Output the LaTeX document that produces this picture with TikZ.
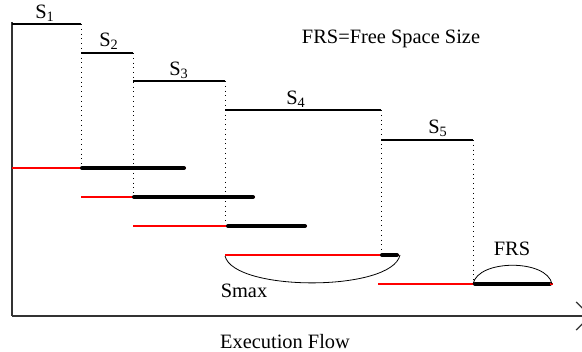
\documentclass[tikz,border=0pt]{standalone}
\usepackage{fontspec}
\setmainfont{Liberation Serif}
\usetikzlibrary{arrows.meta, positioning}
\definecolor{waitcolor}{RGB}{255, 0, 0}

\begin{document}
\begin{tikzpicture}[
    x=0.5pt, y=-0.5pt,
    stepline/.style={black, line width=0.6pt},
    guide/.style={black, dotted, line width=0.4pt},
    waitline/.style={waitcolor, line width=1pt},
    runline/.style={black, line width=2pt, line cap=round},
    label/.style={font=\fontsize{10.2}{12}\selectfont, inner sep=1pt},
    span/.style={black, line width=0.4pt},
    axis/.style={black!80, line width=0.6pt}
]
\useasboundingbox (0,0) rectangle (582,352);

% Axes
\coordinate (top) at (12,22);
\coordinate (origin) at (12,316);
\coordinate (tip) at (591,316);
\draw[axis] (top) -- (origin);
\draw[axis, -{Straight Barb[length=7pt, width=14pt]}] (origin) -- (tip);
\node[label] (flow) at (285,342) {Execution Flow};

% Sizes
\coordinate (s1a) at (12,24);  \coordinate (s1b) at (81,24);
\coordinate (s2a) at (81,53);  \coordinate (s2b) at (133,53);
\coordinate (s3a) at (133,81); \coordinate (s3b) at (225,81);
\coordinate (s4a) at (225,110); \coordinate (s4b) at (381,110);
\coordinate (s5a) at (381,140); \coordinate (s5b) at (473,140);
\foreach \i in {1,...,5}
  \draw[stepline] (s\i a) -- (s\i b);
\node[label] (S1) at (45,13) {S\textsubscript{1}};
\node[label] (S2) at (109,41) {S\textsubscript{2}};
\node[label] (S3) at (179,70) {S\textsubscript{3}};
\node[label] (S4) at (296,99) {S\textsubscript{4}};
\node[label] (S5) at (438,128) {S\textsubscript{5}};
\node[label] (legend) at (391,39) {FRS=Free Space Size};

% Guides
\draw[guide] (s1b) -- (81,168);
\draw[guide] (s2b) -- (133,197);
\draw[guide] (s3b) -- (225,226);
\draw[guide] (s4b) -- (381,255);
\draw[guide] (s5b) -- (473,284);

% Allocations
\foreach \y/\a/\b/\c in {168/12/82/184, 197/81/134/253, 226/133/228/305, 255/225/382/397, 284/378/475/550}{
  \draw[waitline] (\a,\y) -- (\c+2,\y);
  \draw[runline] (\b,\y) -- (\c,\y);
}
\draw[waitline] (550,284) -- (553,284);

% Spans
\coordinate (m1) at (225,256); \coordinate (m2) at (400,255);
\draw[span] (m1) .. controls (234,292) and (392,292) .. (m2);
\node[label] (smax) at (244,291) {Smax};
\coordinate (f1) at (473,284); \coordinate (f2) at (552,284);
\draw[span] (f1) .. controls (478,259) and (547,259) .. (f2);
\node[label] (frs) at (512,249) {FRS};

\end{tikzpicture}
\end{document}
